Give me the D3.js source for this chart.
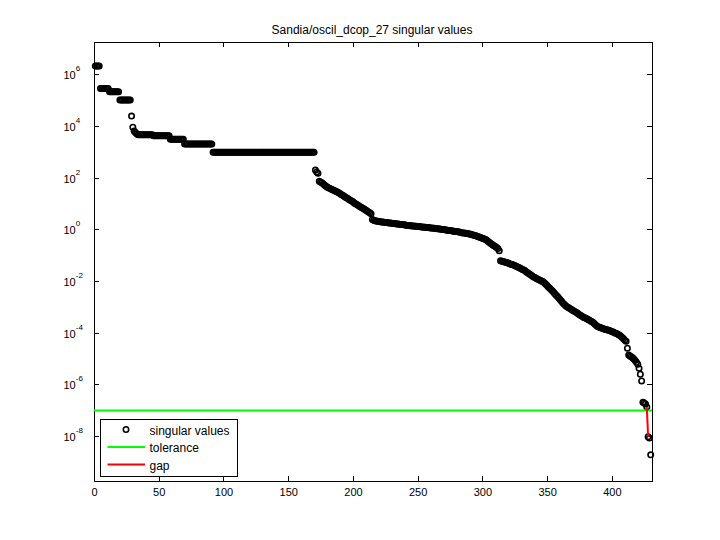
<!DOCTYPE html>
<html>
<head>
<meta charset="utf-8">
<script src="https://cdn.jsdelivr.net/npm/d3@7"></script>
<style>
body { margin: 0; background: #fff; }
text { font-family: "Liberation Sans", Arial, Helvetica, sans-serif; fill: #000; }
</style>
</head>
<body>
<svg width="720" height="540"></svg>
<script>
// singular values, stored as log10
// plateaus at the top: [how many, log10 value]
var headRuns = [[4, 6.32], [7, 5.45], [8, 5.32], [9, 5.00], [1, 4.38], [1, 3.95], [1, 3.80],
    [1, 3.74], [1, 3.70], [12, 3.66], [13, 3.62], [11, 3.48], [22, 3.30], [79, 2.98]];

// index 171 .. 313
var midExp = [2.29, 2.22, 2.17, 1.86, 1.83,
    1.80, 1.76, 1.71, 1.67, 1.64, 1.61, 1.59, 1.56, 1.54, 1.51,
    1.49, 1.46, 1.44, 1.41, 1.38, 1.35, 1.32, 1.29, 1.25, 1.22,
    1.19, 1.15, 1.12, 1.09, 1.06, 1.02, 0.99, 0.96, 0.93, 0.89,
    0.86, 0.83, 0.80, 0.77, 0.74, 0.71, 0.67, 0.64, 0.60,
    0.38, 0.35, 0.33, 0.32, 0.31, 0.30,
    0.29, 0.28, 0.28, 0.27, 0.26, 0.26, 0.25, 0.24, 0.24, 0.23, 0.22, 0.22, 0.21, 0.20, 0.20, 0.19,
    0.18, 0.18, 0.17, 0.17, 0.16, 0.15, 0.15, 0.14, 0.14, 0.13, 0.13, 0.12, 0.12, 0.11, 0.11, 0.10,
    0.09, 0.09, 0.08, 0.08, 0.07, 0.07, 0.06, 0.05, 0.05, 0.04, 0.04, 0.03, 0.02, 0.02, 0.01,
    0.00, -0.01, -0.01, -0.02, -0.03, -0.04, -0.05, -0.05, -0.06, -0.07, -0.08, -0.09, -0.09, -0.10, -0.11, -0.12,
    -0.13, -0.14, -0.14, -0.15, -0.16, -0.17, -0.18, -0.19, -0.21, -0.22,
    -0.24, -0.25, -0.27, -0.29, -0.31, -0.33, -0.35, -0.37, -0.39, -0.41,
    -0.45, -0.49, -0.53, -0.57, -0.61,
    -0.64, -0.67, -0.71, -0.74, -0.83];

// index 314 .. 412
var lowExp = [-1.22, -1.24, -1.25, -1.27, -1.28, -1.30, -1.31, -1.33, -1.35, -1.36, -1.38,
    -1.40, -1.43, -1.45, -1.48, -1.50, -1.53, -1.56, -1.58,
    -1.61, -1.65, -1.68, -1.72, -1.75, -1.79, -1.83,
    -1.86, -1.88, -1.91, -1.93, -1.96, -1.98, -2.01, -2.03,
    -2.08, -2.13, -2.18, -2.23, -2.28, -2.33, -2.38,
    -2.44, -2.50, -2.55, -2.60, -2.66, -2.72, -2.78, -2.84, -2.89, -2.94, -2.99,
    -3.02, -3.05, -3.08, -3.11, -3.14, -3.17, -3.20, -3.23, -3.27, -3.31,
    -3.34, -3.37, -3.40, -3.42, -3.44, -3.47, -3.50, -3.53, -3.56, -3.59, -3.63, -3.68, -3.72, -3.76,
    -3.78, -3.80, -3.82, -3.84, -3.86, -3.88, -3.89, -3.90, -3.92, -3.94, -3.96, -3.98, -4.00,
    -4.02, -4.04, -4.07, -4.10, -4.14, -4.19, -4.24, -4.29, -4.33, -4.60];

// index 413 .. 430
var endExp = [-4.87, -4.90, -4.93, -4.97, -5.02, -5.08, -5.15, -5.22, -5.38, -5.61, -5.87,
    -6.69, -6.72, -6.76, -6.88, -8.03, -8.08, -8.73];

var tolerance = 9.6e-8;
var gapAt = 427;   // red gap joins sv(427) and sv(428)

var xTicks = [0, 50, 100, 150, 200, 250, 300, 350, 400];
var yTickExp = [6, 4, 2, 0, -2, -4, -6, -8];
var legendLabels = ["singular values", "tolerance", "gap"];
var titleText = "Sandia/oscil_dcop_27 singular values";

var screen = {width: 720, height: 540};
var margins = {top: 41.7, right: 68, left: 94, bottom: 59};

var buildValues = function ()
{
    var exps = [];
    headRuns.forEach(function (run) {
        for (var k = 0; k < run[0]; k++) { exps.push(run[1]); }
    });
    exps = exps.concat(midExp, lowExp, endExp);
    return exps.map(function (e, i) { return {i: i + 1, v: Math.pow(10, e)}; });
}

var setup = function (points)
{
    var svg = d3.select("svg")
        .attr("width", screen.width)
        .attr("height", screen.height);

    var left = margins.left, right = screen.width - margins.right;
    var top = margins.top, bottom = screen.height - margins.bottom;

    var xScale = d3.scaleLinear().domain([0, 431]).range([left, right]);
    var yScale = d3.scaleLog().domain([Math.pow(10, -9.741), Math.pow(10, 7.258)]).range([bottom, top]);

    var yTicks = yTickExp.map(function (e) { return Math.pow(10, e); });

    // axes, ticks pointing inward on all four sides
    var axes = svg.append("g").classed("axis", true).attr("shape-rendering", "crispEdges");

    axes.append("g")
        .attr("transform", "translate(0," + bottom + ")")
        .call(d3.axisBottom(xScale).tickValues(xTicks).tickSize(-5).tickSizeOuter(0).tickPadding(7));
    axes.append("g")
        .attr("transform", "translate(0," + top + ")")
        .call(d3.axisTop(xScale).tickValues(xTicks).tickSize(-5).tickSizeOuter(0).tickFormat(""));
    axes.append("g")
        .attr("transform", "translate(" + left + ",0)")
        .call(d3.axisLeft(yScale).tickValues(yTicks).tickSize(-5).tickSizeOuter(0).tickFormat(""));
    axes.append("g")
        .attr("transform", "translate(" + right + ",0)")
        .call(d3.axisRight(yScale).tickValues(yTicks).tickSize(-5).tickSizeOuter(0).tickFormat(""));

    axes.selectAll("path.domain").attr("stroke", "#000");
    axes.selectAll(".tick line").attr("stroke", "#000");
    axes.selectAll(".tick text").attr("font-size", 11).attr("fill", "#000")
        .attr("font-family", "Liberation Sans, Arial, sans-serif");

    // log labels 10^n
    var ylab = svg.append("g").selectAll("text")
        .data(yTickExp)
        .enter()
        .append("text")
        .attr("x", 63.5)
        .attr("y", function (e) { return yScale(Math.pow(10, e)) + 5; })
        .attr("font-size", 11)
        .attr("fill", "#000");
    ylab.append("tspan").attr("fill", "#000").text("10");
    ylab.append("tspan").attr("dy", -8).attr("font-size", 8).attr("fill", "#000")
        .text(function (e) { return e; });

    svg.append("text")
        .attr("x", (left + right) / 2 - 1)
        .attr("y", 33.5)
        .attr("text-anchor", "middle")
        .attr("font-size", 12)
        .text(titleText);

    drawpoints(svg, points, xScale, yScale);
    drawlegend(svg);
}

var drawpoints = function (svg, points, xScale, yScale)
{
    svg.append("g")
        .selectAll("circle")
        .data(points)
        .enter()
        .append("circle")
        .attr("cx", function (d) { return xScale(d.i); })
        .attr("cy", function (d) { return yScale(d.v); })
        .attr("r", 2.7)
        .attr("fill", "none")
        .attr("stroke", "#000")
        .attr("stroke-width", 1.6);

    svg.append("line")
        .attr("x1", xScale(0)).attr("x2", xScale(431))
        .attr("y1", yScale(tolerance)).attr("y2", yScale(tolerance))
        .attr("stroke", "#00ff00")
        .attr("stroke-width", 2);

    var gap = points.filter(function (d) { return d.i == gapAt || d.i == gapAt + 1; });
    var lineGenerator = d3.line()
        .x(function (d) { return xScale(d.i); })
        .y(function (d) { return yScale(d.v); });
    svg.append("path")
        .datum(gap)
        .attr("d", lineGenerator)
        .attr("fill", "none")
        .attr("stroke", "#ff0000")
        .attr("stroke-width", 2);
}

var drawlegend = function (svg)
{
    var lg = svg.append("g").attr("transform", "translate(100.5,419.5)");
    lg.append("rect")
        .attr("width", 137).attr("height", 57)
        .attr("fill", "#fff").attr("stroke", "#000").attr("shape-rendering", "crispEdges");

    var rowY = [10, 27.5, 45];
    lg.append("circle")
        .attr("cx", 25.5).attr("cy", rowY[0]).attr("r", 2.7)
        .attr("fill", "none").attr("stroke", "#000").attr("stroke-width", 1.6);
    lg.append("line")
        .attr("x1", 7).attr("x2", 44.5).attr("y1", rowY[1]).attr("y2", rowY[1])
        .attr("stroke", "#00ff00").attr("stroke-width", 2);
    lg.append("line")
        .attr("x1", 7).attr("x2", 44.5).attr("y1", rowY[2]).attr("y2", rowY[2])
        .attr("stroke", "#ff0000").attr("stroke-width", 2);

    lg.selectAll("text.lab")
        .data(legendLabels)
        .enter()
        .append("text")
        .attr("class", "lab")
        .attr("x", 49)
        .attr("y", function (d, i) { return rowY[i] + 5; })
        .attr("font-size", 12)
        .text(function (d) { return d; });
}

var points = buildValues();
setup(points);
</script>
</body>
</html>
